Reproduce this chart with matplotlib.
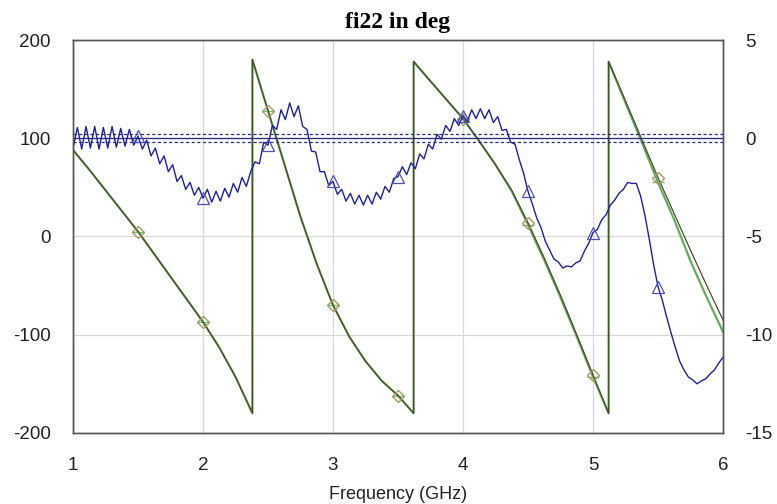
import numpy as np
import matplotlib
matplotlib.use("Agg")
import matplotlib.pyplot as plt

# 相位曲线（左轴，deg），跳变点重复频率
freq_a = [1.0, 1.125, 1.25, 1.375, 1.5, 1.625, 1.75, 1.875, 2.0, 2.125, 2.25, 2.38,
          2.38, 2.5, 2.625, 2.75, 2.875, 3.0, 3.125, 3.25, 3.375, 3.5, 3.62,
          3.62, 3.75, 3.875, 4.0, 4.125, 4.25, 4.375, 4.5, 4.625, 4.75, 4.875, 5.0, 5.12,
          5.12, 5.25, 5.375, 5.5, 5.625, 5.75, 5.875, 6.0]
phase_a = [88, 68, 47, 26, 5, -18, -41, -64, -87, -113, -143, -180,
           180, 128, 74, 20, -28, -70, -102, -127, -147, -162, -180,
           178, 158, 139, 120, 97, 73, 47, 14, -22, -60, -100, -141, -180,
           178, 138, 99, 60, 23, -14, -50, -85]
phase_b = [88, 68, 47, 26, 5, -18, -41, -64, -87, -113, -143, -180,
           180, 128, 74, 20, -28, -70, -102, -127, -147, -162, -180,
           178, 158, 139, 120, 97, 73, 46, 12, -24, -62, -102, -143, -180,
           178, 136, 96, 55, 17, -25, -62, -97]
marker_freqs = [1.5, 2.0, 2.5, 3.0, 3.5, 4.0, 4.5, 5.0, 5.5]

# 幅度曲线（右轴），1~6 GHz 每 1/30 GHz 一个点
mag_db = [-0.5, 0.55, -0.55, 0.6, -0.5, 0.6, -0.55, 0.55, -0.5, 0.6,
          -0.45, 0.5, -0.4, 0.45, -0.35, 0.1, -0.55, -0.1, -0.9, -0.5,
          -1.3, -0.9, -1.7, -1.35, -2.2, -1.9, -2.6, -2.25, -2.9, -2.5,
          -3.05, -2.6, -3.25, -2.7, -3.2, -2.55, -3.0, -2.3, -2.75, -2.0,
          -2.45, -1.7, -1.2, -1.3, -0.2, -0.35, 0.65, 0.45, 1.45, 0.95,
          1.8, 1.1, 1.65, 0.6, 0.45, -0.65, -0.7, -1.7, -1.7, -2.4,
          -2.2, -2.85, -2.6, -3.2, -2.8, -3.35, -2.9, -3.4, -2.9, -3.35,
          -2.75, -3.1, -2.45, -2.75, -2.05, -1.95, -1.45, -1.85, -1.25, -1.55,
          -0.8, -1.05, -0.3, -0.55, 0.2, -0.05, 0.65, 0.35, 1.0, 0.65,
          1.15, 0.85, 1.45, 1.0, 1.5, 1.0, 1.45, 0.8, 1.1, 0.4,
          0.45, -0.2, -0.3, -1.1, -1.8, -2.7, -3.35, -4.05, -4.55, -5.25,
          -5.7, -6.15, -6.3, -6.6, -6.5, -6.55, -6.35, -6.25, -5.75, -5.35,
          -4.8, -4.65, -4.15, -3.9, -3.4, -3.15, -2.8, -2.6, -2.25, -2.3,
          -2.3, -2.95, -3.95, -5.15, -6.45, -7.55, -8.25, -9.1, -9.9, -10.65,
          -11.35, -11.8, -12.15, -12.3, -12.5, -12.35, -12.25, -12.0, -11.8, -11.45,
          -11.15]
mag_freq = np.linspace(1.0, 6.0, len(mag_db))
ref_lines = [0.2, 0.0, -0.2]

left_ticks = [-200, -100, 0, 100, 200]
right_ticks = [-15, -10, -5, 0, 5]
x_ticks = [1, 2, 3, 4, 5, 6]

plt.rcParams['font.family'] = ['Liberation Sans', 'DejaVu Sans']
plt.rcParams['axes.unicode_minus'] = False

fig = plt.figure(figsize=(7.77, 5.04), dpi=100)
ax = fig.add_axes([0.094, 0.141, 0.8365, 0.7796])
ax2 = ax.twinx()

# 网格
ax.set_xlim(1, 6)
ax.set_ylim(-200, 200)
ax.set_xticks(x_ticks)
ax.set_yticks(left_ticks)
ax.grid(True, color='#d8d8d8', lw=0.9)
ax.set_axisbelow(True)

# 相位曲线
mark_idx = [freq_a.index(f) for f in marker_freqs]
ax.plot(freq_a, phase_b, color='#66ab5c', lw=1.6, marker='_', markersize=9,
        markevery=mark_idx, markeredgecolor='#6cbf6c', zorder=2)
ax.plot(freq_a, phase_a, color='#4d4a30', lw=0.9, marker='D', markersize=6,
        markevery=mark_idx, markerfacecolor='none', markeredgecolor='#a89a62',
        markeredgewidth=1.0, zorder=3)

# 幅度曲线与参考线
ax2.set_ylim(-15, 5)
ax2.set_yticks(right_ticks)
for v in ref_lines:
    ax2.axhline(v, color='#2a2a80', lw=0.9, ls='-' if v == 0 else (0, (2.5, 2)))
ax2.plot(mag_freq, mag_db, color='#20209a', lw=1.0, marker='^', markersize=8,
         markevery=list(range(15, 150, 15)), markerfacecolor='none',
         markeredgecolor='#5050b0', markeredgewidth=0.9)

for a in (ax, ax2):
    a.tick_params(length=0, labelsize=13.5, colors='#222222')
    for s in a.spines.values():
        s.set_color('#555555')
        s.set_linewidth(1.0)
ax.tick_params(axis='y', pad=16)
ax.tick_params(axis='x', pad=17)
ax2.tick_params(axis='y', pad=16)

ax.set_xlabel('Frequency (GHz)', fontsize=13, labelpad=9, color='#222222')
ax.set_title('fi22 in deg', fontsize=17, fontweight='bold',
             family=['Liberation Serif'], pad=9)

fig.savefig('out.png', dpi=100)
